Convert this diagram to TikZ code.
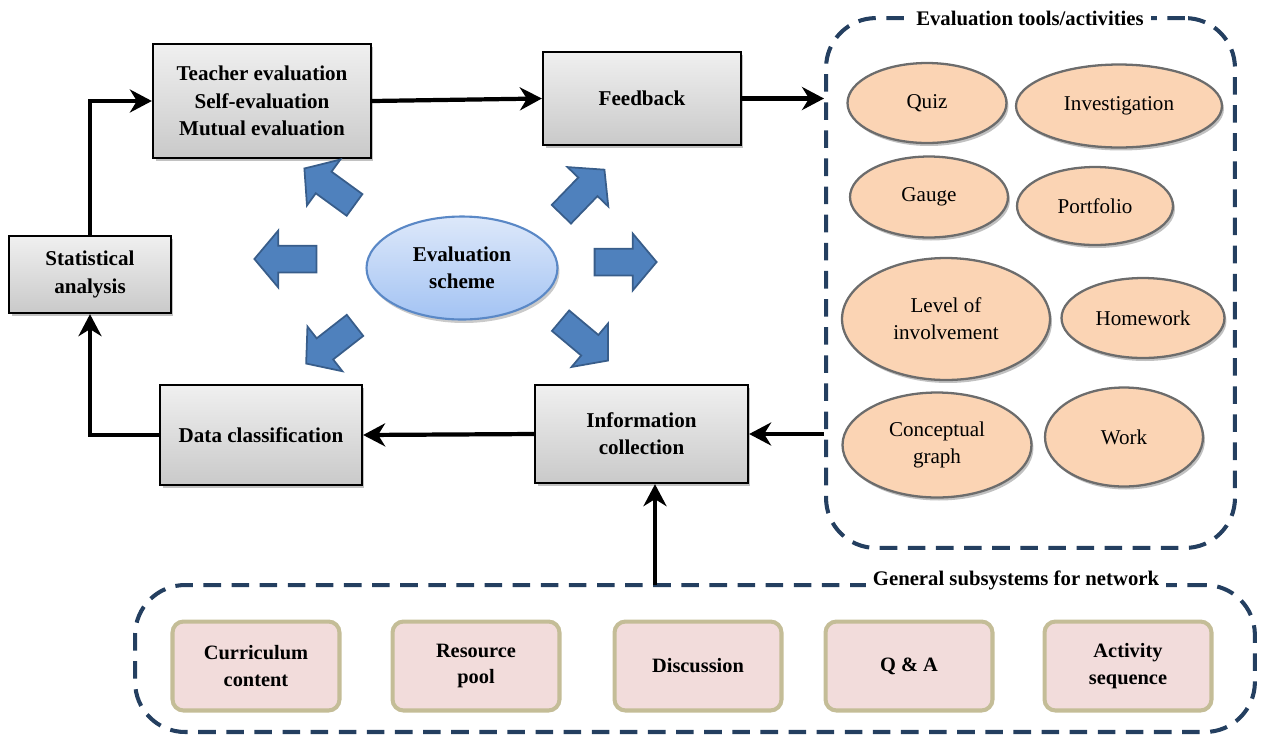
\documentclass[tikz,border=0pt]{standalone}
\usepackage{fontspec}
\setmainfont{Liberation Serif}
\usetikzlibrary{positioning}
\usetikzlibrary{shapes,shapes.arrows}
\usetikzlibrary{shadows}
\usetikzlibrary{arrows.meta}

\definecolor{dashnavy}{HTML}{243F60}
\definecolor{peach}{HTML}{FBD4B4}
\definecolor{rosefill}{HTML}{F2DCDB}
\definecolor{khaki}{HTML}{C4BD97}
\definecolor{burstblue}{HTML}{4F81BD}
\definecolor{burstedge}{HTML}{385D8A}
\definecolor{schemetop}{HTML}{DDE8FA}
\definecolor{schemebottom}{HTML}{A3C3F3}
\definecolor{schemeedge}{HTML}{5A88C6}

\tikzset{
  stagebox/.style={rectangle, draw=black, line width=1.3pt, top color=gray!12,
    bottom color=gray!42, align=center, inner sep=2pt,
    font=\fontsize{12pt}{15.5pt}\selectfont\bfseries,
    drop shadow={shadow xshift=0.05cm, shadow yshift=-0.06cm, fill=gray!80, opacity=0.6}},
  toolellipse/.style={ellipse, draw=gray!85!black, line width=1.3pt, fill=peach,
    align=center, inner sep=0pt, font=\fontsize{12pt}{15.5pt}\selectfont,
    drop shadow={shadow xshift=0.04cm, shadow yshift=-0.06cm, fill=gray!70, opacity=0.7}},
  subbox/.style={rectangle, rounded corners=0.22cm, draw=khaki, line width=2.3pt,
    fill=rosefill, align=center, minimum width=3.34cm, minimum height=1.78cm,
    font=\fontsize{11.6pt}{15pt}\selectfont\bfseries},
  groupbox/.style={rectangle, rounded corners=1cm, draw=dashnavy, line width=2.3pt,
    dash pattern=on 10pt off 6pt},
  grouptitle/.style={fill=white, inner sep=4pt, font=\fontsize{11.8pt}{13pt}\selectfont\bfseries},
  burst/.style={single arrow, fill=burstblue, draw=burstedge, line width=1pt,
    inner sep=0.25cm, minimum height=1.24cm, single arrow head extend=0.3cm,
    single arrow tip angle=100},
  flow/.style={line width=2.4pt, -{Stealth[length=0.44cm, width=0.46cm, inset=0.14cm]}}
}

\newcommand\subsystemlabels{256/{Curriculum\\content}, 476/{Resource\\pool},
  698/{Discussion}, 909/{Q \& A}, 1128/{Activity\\sequence}}

\begin{document}
\begin{tikzpicture}[x=0.02cm, y=-0.02cm]
  \useasboundingbox (0,0) rectangle (1261,735);

  % groups
  \node[groupbox, minimum width=8.18cm, minimum height=10.6cm] (tools) at (1030.5,283) {};
  \node[grouptitle] (toolstitle) at (1030,18) {Evaluation tools/activities};
  \node[groupbox, minimum width=22.4cm, minimum height=2.94cm] (network) at (695,658.5) {};
  \node[grouptitle] (networktitle) at (1016,580) {General subsystems for network};

  % stages
  \node[stagebox, minimum width=4.36cm, minimum height=2.28cm] (teacher) at (262,101)
    {Teacher evaluation\\Self-evaluation\\Mutual evaluation};
  \node[stagebox, minimum width=3.96cm, minimum height=1.86cm] (feedback) at (642,98.5) {Feedback};
  \node[stagebox, minimum width=3.24cm, minimum height=1.54cm] (stat) at (90,274.5)
    {Statistical\\analysis};
  \node[stagebox, minimum width=4.04cm, minimum height=2cm] (data) at (261,435)
    {Data classification};
  \node[stagebox, minimum width=4.26cm, minimum height=1.96cm] (info) at (641.5,434)
    {Information\\collection};

  % centre
  \node[ellipse, draw=schemeedge, line width=1.2pt, top color=schemetop,
    bottom color=schemebottom, minimum width=3.82cm, minimum height=2.06cm,
    inner sep=0pt, align=center, font=\fontsize{12pt}{15.5pt}\selectfont\bfseries,
    drop shadow={shadow xshift=0.04cm, shadow yshift=-0.07cm, fill=gray!70, opacity=0.6}]
    (scheme) at (462,268) {Evaluation\\scheme};

  \foreach \x/\y/\a [count=\i] in {291/259/180, 620/262/0, 334/190/144,
    579/196/46, 335/341/218, 580/337/-40} {
    \node[burst, rotate=\a] (burst\i) at (\x,\y) {};
  }

  % tools
  \node[toolellipse, minimum width=3.18cm, minimum height=1.6cm] (quiz) at (927,103) {Quiz};
  \node[toolellipse, minimum width=4.12cm, minimum height=1.66cm] (investigation) at (1119,106) {Investigation};
  \node[toolellipse, minimum width=3.16cm, minimum height=1.62cm] (gauge) at (929,197) {Gauge};
  \node[toolellipse, minimum width=3.12cm, minimum height=1.56cm] (portfolio) at (1095,206) {Portfolio};
  \node[toolellipse, minimum width=4.16cm, minimum height=2.44cm] (involvement) at (946,319)
    {Level of\\involvement};
  \node[toolellipse, minimum width=3.26cm, minimum height=1.6cm] (homework) at (1143,318) {Homework};
  \node[toolellipse, minimum width=3.78cm, minimum height=2.1cm] (concept) at (937,445)
    {Conceptual\\graph};
  \node[toolellipse, minimum width=3.16cm, minimum height=1.98cm] (work) at (1124,437) {Work};

  % subsystems
  \foreach \x/\name [count=\i] in \subsystemlabels {
    \node[subbox] (sub\i) at (\x,666) {\name};
  }

  % flow
  \coordinate (netup) at (655,585);
  \draw[flow] (stat.north) |- (teacher.west);
  \draw[flow] (teacher.east) -- (feedback.west);
  \draw[flow] (feedback.east) -- (tools.west |- feedback.east);
  \draw[flow] (tools.west |- info.east) -- (info.east);
  \draw[flow] (info.west) -- (data.east);
  \draw[flow] (data.west) -| (stat.south);
  \draw[flow] (netup) -- (netup |- info.south);

\end{tikzpicture}
\end{document}
